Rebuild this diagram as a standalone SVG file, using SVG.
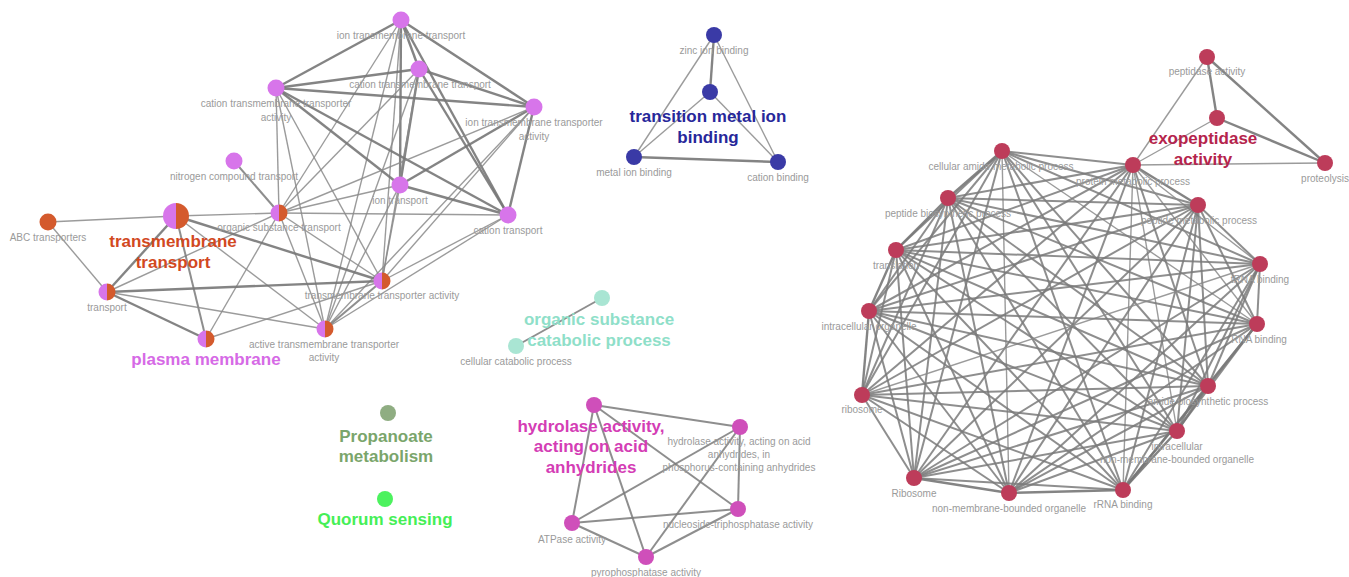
<svg xmlns="http://www.w3.org/2000/svg" width="1349" height="577" viewBox="0 0 1349 577">
<style>
.e1{stroke:#8a8a8a;stroke-width:1.4;stroke-opacity:0.85;fill:none}
.e2{stroke:#777;stroke-width:2.4;stroke-opacity:0.9;fill:none}
.e3{stroke:#7a7a7a;stroke-width:2;stroke-opacity:0.85;fill:none}
.lb{font-family:"Liberation Sans",Arial,sans-serif;font-size:10px;fill:#9a9a9a;text-anchor:middle}
.big{font-family:"Liberation Sans",Arial,sans-serif;font-size:17px;font-weight:bold;text-anchor:middle}
.vi{fill:#d775ea}.or{fill:#d45a2d}.bl{fill:#3a3aa6}.te{fill:#a9e5d3}.pr{fill:#8fad82}.qs{fill:#4cf25e}.mg{fill:#cf4fba}.rd{fill:#bd3c5a}
</style>
<rect width="1349" height="577" fill="#fff"/>
<g id="connectors">
<!-- left cluster -->
<line class="e2" x1="401" y1="20" x2="276" y2="88"/>
<line class="e2" x1="401" y1="20" x2="534" y2="107"/>
<line class="e2" x1="401" y1="20" x2="419" y2="69"/>
<line class="e2" x1="401" y1="20" x2="400" y2="185"/>
<line class="e2" x1="401" y1="20" x2="508" y2="215"/>
<line class="e1" x1="401" y1="20" x2="382" y2="281"/>
<line class="e1" x1="401" y1="20" x2="325" y2="329"/>
<line class="e1" x1="401" y1="20" x2="279" y2="213"/>
<line class="e2" x1="419" y1="69" x2="276" y2="88"/>
<line class="e2" x1="419" y1="69" x2="534" y2="107"/>
<line class="e2" x1="419" y1="69" x2="400" y2="185"/>
<line class="e2" x1="419" y1="69" x2="508" y2="215"/>
<line class="e1" x1="419" y1="69" x2="382" y2="281"/>
<line class="e1" x1="419" y1="69" x2="325" y2="329"/>
<line class="e1" x1="419" y1="69" x2="279" y2="213"/>
<line class="e2" x1="276" y1="88" x2="534" y2="107"/>
<line class="e2" x1="276" y1="88" x2="400" y2="185"/>
<line class="e2" x1="276" y1="88" x2="508" y2="215"/>
<line class="e1" x1="276" y1="88" x2="279" y2="213"/>
<line class="e1" x1="276" y1="88" x2="382" y2="281"/>
<line class="e1" x1="276" y1="88" x2="325" y2="329"/>
<line class="e2" x1="534" y1="107" x2="400" y2="185"/>
<line class="e2" x1="534" y1="107" x2="508" y2="215"/>
<line class="e1" x1="534" y1="107" x2="279" y2="213"/>
<line class="e1" x1="534" y1="107" x2="382" y2="281"/>
<line class="e1" x1="534" y1="107" x2="325" y2="329"/>
<line class="e2" x1="400" y1="185" x2="508" y2="215"/>
<line class="e1" x1="400" y1="185" x2="279" y2="213"/>
<line class="e1" x1="400" y1="185" x2="382" y2="281"/>
<line class="e1" x1="400" y1="185" x2="325" y2="329"/>
<line class="e1" x1="508" y1="215" x2="279" y2="213"/>
<line class="e1" x1="508" y1="215" x2="382" y2="281"/>
<line class="e1" x1="508" y1="215" x2="325" y2="329"/>
<line class="e3" x1="234" y1="161" x2="279" y2="213"/>
<line class="e1" x1="279" y1="213" x2="176" y2="216"/>
<line class="e1" x1="279" y1="213" x2="107" y2="292"/>
<line class="e1" x1="279" y1="213" x2="206" y2="339"/>
<line class="e1" x1="279" y1="213" x2="382" y2="281"/>
<line class="e1" x1="279" y1="213" x2="325" y2="329"/>
<line class="e1" x1="48" y1="222" x2="176" y2="216"/>
<line class="e1" x1="48" y1="222" x2="107" y2="292"/>
<line class="e2" x1="176" y1="216" x2="107" y2="292"/>
<line class="e3" x1="176" y1="216" x2="206" y2="339"/>
<line class="e2" x1="176" y1="216" x2="382" y2="281"/>
<line class="e1" x1="176" y1="216" x2="325" y2="329"/>
<line class="e2" x1="107" y1="292" x2="382" y2="281"/>
<line class="e2" x1="107" y1="292" x2="206" y2="339"/>
<line class="e1" x1="107" y1="292" x2="325" y2="329"/>
<line class="e1" x1="206" y1="339" x2="382" y2="281"/>
<line class="e3" x1="382" y1="281" x2="325" y2="329"/>
<!-- transition metal ion binding -->
<line class="e2" x1="714" y1="35" x2="710" y2="92"/>
<line class="e1" x1="714" y1="35" x2="634" y2="157"/>
<line class="e1" x1="714" y1="35" x2="778" y2="162"/>
<line class="e1" x1="710" y1="92" x2="634" y2="157"/>
<line class="e1" x1="710" y1="92" x2="778" y2="162"/>
<line class="e2" x1="634" y1="157" x2="778" y2="162"/>
<!-- organic substance catabolic -->
<line class="e3" x1="602" y1="298" x2="516" y2="346"/>
<!-- hydrolase -->
<line class="e3" x1="594" y1="405" x2="740" y2="427"/>
<line class="e3" x1="594" y1="405" x2="572" y2="523"/>
<line class="e3" x1="594" y1="405" x2="646" y2="557"/>
<line class="e3" x1="594" y1="405" x2="738" y2="509"/>
<line class="e3" x1="740" y1="427" x2="572" y2="523"/>
<line class="e3" x1="740" y1="427" x2="646" y2="557"/>
<line class="e3" x1="740" y1="427" x2="738" y2="509"/>
<line class="e3" x1="572" y1="523" x2="738" y2="509"/>
<line class="e3" x1="572" y1="523" x2="646" y2="557"/>
<line class="e3" x1="646" y1="557" x2="738" y2="509"/>
<!-- exopeptidase -->
<line class="e2" x1="1207" y1="57" x2="1217" y2="118"/>
<line class="e2" x1="1207" y1="57" x2="1325" y2="163"/>
<line class="e1" x1="1207" y1="57" x2="1133" y2="165"/>
<line class="e1" x1="1217" y1="118" x2="1133" y2="165"/>
<line class="e2" x1="1217" y1="118" x2="1325" y2="163"/>
<line class="e1" x1="1133" y1="165" x2="1325" y2="163"/>
<!-- ribosome cluster -->
<line class="e3" x1="1002" y1="151" x2="1133" y2="165"/>
<line class="e2" x1="1002" y1="151" x2="948" y2="198"/>
<line class="e3" x1="1002" y1="151" x2="1198" y2="205"/>
<line class="e3" x1="1002" y1="151" x2="896" y2="250"/>
<line class="e3" x1="1002" y1="151" x2="1260" y2="264"/>
<line class="e3" x1="1002" y1="151" x2="869" y2="311"/>
<line class="e1" x1="1002" y1="151" x2="1257" y2="324"/>
<line class="e3" x1="1002" y1="151" x2="1208" y2="386"/>
<line class="e3" x1="1002" y1="151" x2="862" y2="395"/>
<line class="e3" x1="1002" y1="151" x2="1177" y2="431"/>
<line class="e3" x1="1002" y1="151" x2="914" y2="478"/>
<line class="e1" x1="1002" y1="151" x2="1009" y2="493"/>
<line class="e3" x1="1002" y1="151" x2="1123" y2="490"/>
<line class="e3" x1="1133" y1="165" x2="948" y2="198"/>
<line class="e2" x1="1133" y1="165" x2="1198" y2="205"/>
<line class="e3" x1="1133" y1="165" x2="896" y2="250"/>
<line class="e1" x1="1133" y1="165" x2="1260" y2="264"/>
<line class="e3" x1="1133" y1="165" x2="869" y2="311"/>
<line class="e1" x1="1133" y1="165" x2="1257" y2="324"/>
<line class="e3" x1="1133" y1="165" x2="1208" y2="386"/>
<line class="e3" x1="1133" y1="165" x2="862" y2="395"/>
<line class="e1" x1="1133" y1="165" x2="1177" y2="431"/>
<line class="e3" x1="1133" y1="165" x2="914" y2="478"/>
<line class="e3" x1="1133" y1="165" x2="1009" y2="493"/>
<line class="e1" x1="1133" y1="165" x2="1123" y2="490"/>
<line class="e3" x1="948" y1="198" x2="1198" y2="205"/>
<line class="e2" x1="948" y1="198" x2="896" y2="250"/>
<line class="e3" x1="948" y1="198" x2="1260" y2="264"/>
<line class="e3" x1="948" y1="198" x2="869" y2="311"/>
<line class="e3" x1="948" y1="198" x2="1257" y2="324"/>
<line class="e3" x1="948" y1="198" x2="1208" y2="386"/>
<line class="e3" x1="948" y1="198" x2="862" y2="395"/>
<line class="e3" x1="948" y1="198" x2="1177" y2="431"/>
<line class="e3" x1="948" y1="198" x2="914" y2="478"/>
<line class="e3" x1="948" y1="198" x2="1009" y2="493"/>
<line class="e3" x1="948" y1="198" x2="1123" y2="490"/>
<line class="e3" x1="1198" y1="205" x2="896" y2="250"/>
<line class="e3" x1="1198" y1="205" x2="1260" y2="264"/>
<line class="e3" x1="1198" y1="205" x2="869" y2="311"/>
<line class="e3" x1="1198" y1="205" x2="1257" y2="324"/>
<line class="e3" x1="1198" y1="205" x2="1208" y2="386"/>
<line class="e3" x1="1198" y1="205" x2="862" y2="395"/>
<line class="e3" x1="1198" y1="205" x2="1177" y2="431"/>
<line class="e3" x1="1198" y1="205" x2="914" y2="478"/>
<line class="e3" x1="1198" y1="205" x2="1009" y2="493"/>
<line class="e3" x1="1198" y1="205" x2="1123" y2="490"/>
<line class="e3" x1="896" y1="250" x2="1260" y2="264"/>
<line class="e2" x1="896" y1="250" x2="869" y2="311"/>
<line class="e3" x1="896" y1="250" x2="1257" y2="324"/>
<line class="e3" x1="896" y1="250" x2="1208" y2="386"/>
<line class="e3" x1="896" y1="250" x2="862" y2="395"/>
<line class="e3" x1="896" y1="250" x2="1177" y2="431"/>
<line class="e3" x1="896" y1="250" x2="914" y2="478"/>
<line class="e3" x1="896" y1="250" x2="1009" y2="493"/>
<line class="e3" x1="896" y1="250" x2="1123" y2="490"/>
<line class="e3" x1="1260" y1="264" x2="869" y2="311"/>
<line class="e3" x1="1260" y1="264" x2="1257" y2="324"/>
<line class="e3" x1="1260" y1="264" x2="1208" y2="386"/>
<line class="e1" x1="1260" y1="264" x2="862" y2="395"/>
<line class="e3" x1="1260" y1="264" x2="1177" y2="431"/>
<line class="e3" x1="1260" y1="264" x2="914" y2="478"/>
<line class="e3" x1="1260" y1="264" x2="1009" y2="493"/>
<line class="e3" x1="1260" y1="264" x2="1123" y2="490"/>
<line class="e3" x1="869" y1="311" x2="1257" y2="324"/>
<line class="e3" x1="869" y1="311" x2="1208" y2="386"/>
<line class="e2" x1="869" y1="311" x2="862" y2="395"/>
<line class="e3" x1="869" y1="311" x2="1177" y2="431"/>
<line class="e3" x1="869" y1="311" x2="914" y2="478"/>
<line class="e3" x1="869" y1="311" x2="1009" y2="493"/>
<line class="e3" x1="869" y1="311" x2="1123" y2="490"/>
<line class="e2" x1="1257" y1="324" x2="1208" y2="386"/>
<line class="e3" x1="1257" y1="324" x2="862" y2="395"/>
<line class="e3" x1="1257" y1="324" x2="1177" y2="431"/>
<line class="e3" x1="1257" y1="324" x2="914" y2="478"/>
<line class="e3" x1="1257" y1="324" x2="1009" y2="493"/>
<line class="e3" x1="1257" y1="324" x2="1123" y2="490"/>
<line class="e3" x1="1208" y1="386" x2="862" y2="395"/>
<line class="e2" x1="1208" y1="386" x2="1177" y2="431"/>
<line class="e3" x1="1208" y1="386" x2="914" y2="478"/>
<line class="e3" x1="1208" y1="386" x2="1009" y2="493"/>
<line class="e2" x1="1208" y1="386" x2="1123" y2="490"/>
<line class="e3" x1="862" y1="395" x2="1177" y2="431"/>
<line class="e3" x1="862" y1="395" x2="914" y2="478"/>
<line class="e3" x1="862" y1="395" x2="1009" y2="493"/>
<line class="e3" x1="862" y1="395" x2="1123" y2="490"/>
<line class="e3" x1="1177" y1="431" x2="914" y2="478"/>
<line class="e3" x1="1177" y1="431" x2="1009" y2="493"/>
<line class="e2" x1="1177" y1="431" x2="1123" y2="490"/>
<line class="e2" x1="914" y1="478" x2="1009" y2="493"/>
<line class="e3" x1="914" y1="478" x2="1123" y2="490"/>
<line class="e2" x1="1009" y1="493" x2="1123" y2="490"/>
</g>
<!-- left cluster nodes -->
<g id="n-ion-transmembrane-transport"><circle class="vi" cx="401" cy="20" r="8.5"/><text class="lb" x="401" y="39">ion transmembrane transport</text></g>
<g id="n-cation-transmembrane-transport"><circle class="vi" cx="419" cy="69" r="8.5"/><text class="lb" x="420" y="88">cation transmembrane transport</text></g>
<g id="n-cation-transmembrane-transporter-activity"><circle class="vi" cx="276" cy="88" r="8.5"/><text class="lb" x="276" y="107">cation transmembrane transporter</text><text class="lb" x="276" y="121">activity</text></g>
<g id="n-ion-transmembrane-transporter-activity"><circle class="vi" cx="534" cy="107" r="8.5"/><text class="lb" x="534" y="126">ion transmembrane transporter</text><text class="lb" x="534" y="140">activity</text></g>
<g id="n-nitrogen-compound-transport"><circle class="vi" cx="234" cy="161" r="8.5"/><text class="lb" x="234" y="180">nitrogen compound transport</text></g>
<g id="n-ion-transport"><circle class="vi" cx="400" cy="185" r="8.5"/><text class="lb" x="400" y="204">ion transport</text></g>
<g id="n-organic-substance-transport"><path class="vi" d="M279,204.5 A8.5,8.5 0 0 0 279,221.5 Z"/><path class="or" d="M279,204.5 A8.5,8.5 0 0 1 279,221.5 Z"/><text class="lb" x="279" y="231">organic substance transport</text></g>
<g id="n-cation-transport"><circle class="vi" cx="508" cy="215" r="8.5"/><text class="lb" x="508" y="234">cation transport</text></g>
<g id="n-abc-transporters"><circle class="or" cx="48" cy="222" r="8.5"/><text class="lb" x="48" y="241">ABC transporters</text></g>
<g id="n-transmembrane-transport"><path class="vi" d="M176,203 A13,13 0 0 0 176,229 Z"/><path class="or" d="M176,203 A13,13 0 0 1 176,229 Z"/><text class="big" x="173" y="247" fill="#d2491f">transmembrane</text><text class="big" x="173" y="268" fill="#d2491f">transport</text></g>
<g id="n-transport"><path class="vi" d="M107,283.5 A8.5,8.5 0 0 0 107,300.5 Z"/><path class="or" d="M107,283.5 A8.5,8.5 0 0 1 107,300.5 Z"/><text class="lb" x="107" y="311">transport</text></g>
<g id="n-transmembrane-transporter-activity"><path class="vi" d="M382,272.5 A8.5,8.5 0 0 0 382,289.5 Z"/><path class="or" d="M382,272.5 A8.5,8.5 0 0 1 382,289.5 Z"/><text class="lb" x="382" y="299">transmembrane transporter activity</text></g>
<g id="n-plasma-membrane"><path class="vi" d="M206,330.5 A8.5,8.5 0 0 0 206,347.5 Z"/><path class="or" d="M206,330.5 A8.5,8.5 0 0 1 206,347.5 Z"/><text class="big" x="206" y="365" fill="#d66ae6">plasma membrane</text></g>
<g id="n-active-transmembrane-transporter-activity"><path class="vi" d="M325,320.5 A8.5,8.5 0 0 0 325,337.5 Z"/><path class="or" d="M325,320.5 A8.5,8.5 0 0 1 325,337.5 Z"/><text class="lb" x="324" y="348">active transmembrane transporter</text><text class="lb" x="324" y="361">activity</text></g>
<!-- transition metal ion binding -->
<g id="n-zinc-ion-binding"><circle class="bl" cx="714" cy="35" r="8"/><text class="lb" x="714" y="54">zinc ion binding</text></g>
<g id="n-transition-metal-ion-binding"><circle class="bl" cx="710" cy="92" r="8"/><text class="big" x="708" y="122" fill="#27279a">transition metal ion</text><text class="big" x="708" y="143" fill="#27279a">binding</text></g>
<g id="n-metal-ion-binding"><circle class="bl" cx="634" cy="157" r="8"/><text class="lb" x="634" y="176">metal ion binding</text></g>
<g id="n-cation-binding"><circle class="bl" cx="778" cy="162" r="8"/><text class="lb" x="778" y="181">cation binding</text></g>
<!-- organic substance catabolic process -->
<g id="n-organic-substance-catabolic-process"><circle class="te" cx="602" cy="298" r="8"/><text class="big" x="599" y="325" fill="#8fdfc9">organic substance</text><text class="big" x="599" y="346" fill="#8fdfc9">catabolic process</text></g>
<g id="n-cellular-catabolic-process"><circle class="te" cx="516" cy="346" r="8"/><text class="lb" x="516" y="365">cellular catabolic process</text></g>
<!-- singles -->
<g id="n-propanoate-metabolism"><circle class="pr" cx="388" cy="413" r="8"/><text class="big" x="386" y="442" fill="#7aa56b">Propanoate</text><text class="big" x="386" y="462" fill="#7aa56b">metabolism</text></g>
<g id="n-quorum-sensing"><circle class="qs" cx="385" cy="499" r="8"/><text class="big" x="385" y="525" fill="#45ef56">Quorum sensing</text></g>
<!-- hydrolase -->
<g id="n-hydrolase-activity-acid-anhydrides"><circle class="mg" cx="594" cy="405" r="8"/><text class="big" x="591" y="432" fill="#d43db5">hydrolase activity,</text><text class="big" x="591" y="452" fill="#d43db5">acting on acid</text><text class="big" x="591" y="473" fill="#d43db5">anhydrides</text></g>
<g id="n-hydrolase-phosphorus"><circle class="mg" cx="740" cy="427" r="8"/><text class="lb" x="739" y="445">hydrolase activity, acting on acid</text><text class="lb" x="739" y="458">anhydrides, in</text><text class="lb" x="739" y="471">phosphorus-containing anhydrides</text></g>
<g id="n-nucleoside-triphosphatase-activity"><circle class="mg" cx="738" cy="509" r="8"/><text class="lb" x="738" y="528">nucleoside-triphosphatase activity</text></g>
<g id="n-atpase-activity"><circle class="mg" cx="572" cy="523" r="8"/><text class="lb" x="572" y="543">ATPase activity</text></g>
<g id="n-pyrophosphatase-activity"><circle class="mg" cx="646" cy="557" r="8"/><text class="lb" x="646" y="576">pyrophosphatase activity</text></g>
<!-- right cluster -->
<g id="n-peptidase-activity"><circle class="rd" cx="1207" cy="57" r="8"/><text class="lb" x="1207" y="75">peptidase activity</text></g>
<g id="n-exopeptidase-activity"><circle class="rd" cx="1217" cy="118" r="8"/><text class="big" x="1203" y="144" fill="#b5244c">exopeptidase</text><text class="big" x="1203" y="165" fill="#b5244c">activity</text></g>
<g id="n-proteolysis"><circle class="rd" cx="1325" cy="163" r="8"/><text class="lb" x="1325" y="182">proteolysis</text></g>
<g id="n-protein-metabolic-process"><circle class="rd" cx="1133" cy="165" r="8"/><text class="lb" x="1133" y="185">protein metabolic process</text></g>
<g id="n-cellular-amide-metabolic-process"><circle class="rd" cx="1002" cy="151" r="8"/><text class="lb" x="1001" y="170">cellular amide metabolic process</text></g>
<g id="n-peptide-biosynthetic-process"><circle class="rd" cx="948" cy="198" r="8"/><text class="lb" x="948" y="217">peptide biosynthetic process</text></g>
<g id="n-peptide-metabolic-process"><circle class="rd" cx="1198" cy="205" r="8"/><text class="lb" x="1199" y="224">peptide metabolic process</text></g>
<g id="n-translation"><circle class="rd" cx="896" cy="250" r="8"/><text class="lb" x="896" y="269">translation</text></g>
<g id="n-trna-binding"><circle class="rd" cx="1260" cy="264" r="8"/><text class="lb" x="1260" y="283">tRNA binding</text></g>
<g id="n-intracellular-organelle"><circle class="rd" cx="869" cy="311" r="8"/><text class="lb" x="869" y="330">intracellular organelle</text></g>
<g id="n-rna-binding"><circle class="rd" cx="1257" cy="324" r="8"/><text class="lb" x="1259" y="343">RNA binding</text></g>
<g id="n-amide-biosynthetic-process"><circle class="rd" cx="1208" cy="386" r="8"/><text class="lb" x="1208" y="405">amide biosynthetic process</text></g>
<g id="n-ribosome"><circle class="rd" cx="862" cy="395" r="8"/><text class="lb" x="862" y="413">ribosome</text></g>
<g id="n-intracellular-nmbo"><circle class="rd" cx="1177" cy="431" r="8"/><text class="lb" x="1177" y="450">intracellular</text><text class="lb" x="1177" y="463">non-membrane-bounded organelle</text></g>
<g id="n-Ribosome"><circle class="rd" cx="914" cy="478" r="8"/><text class="lb" x="914" y="497">Ribosome</text></g>
<g id="n-nmbo"><circle class="rd" cx="1009" cy="493" r="8"/><text class="lb" x="1009" y="512">non-membrane-bounded organelle</text></g>
<g id="n-rrna-binding"><circle class="rd" cx="1123" cy="490" r="8"/><text class="lb" x="1123" y="508">rRNA binding</text></g>
</svg>
